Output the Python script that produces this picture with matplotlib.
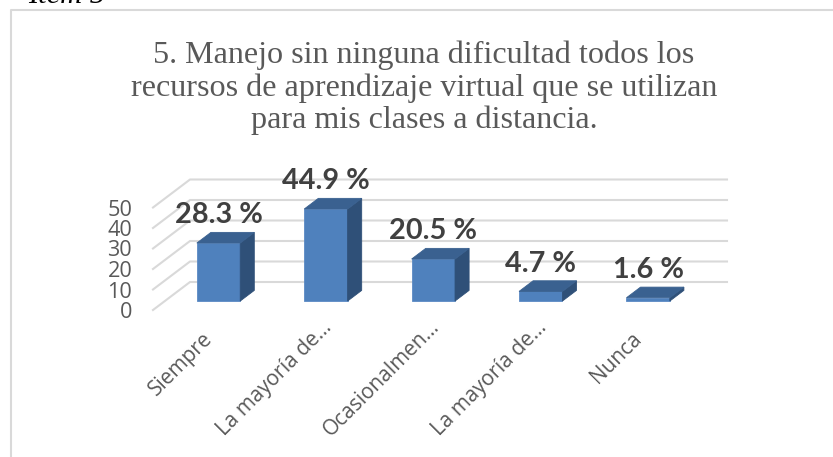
import matplotlib
matplotlib.use("Agg")
import matplotlib.pyplot as plt
from matplotlib.lines import Line2D
from matplotlib.patches import Polygon
from matplotlib.transforms import Affine2D

categories = ["Siempre", "La mayoría de...", "Ocasionalmen...", "La mayoría de...", "Nunca"]
values = [28.3, 44.9, 20.5, 4.7, 1.6]
value_labels = ["28.3 %", "44.9 %", "20.5 %", "4.7 %", "1.6 %"]
y_ticks = [0, 10, 20, 30, 40, 50]
title = ("5. Manejo sin ninguna dificultad todos los\n"
         "recursos de aprendizaje virtual que se utilizan\n"
         "para mis clases a distancia.")

W, H = 833, 457
fig = plt.figure(figsize=(W / 100, H / 100), dpi=100)

# chart frame (only top and left show) and the cut off caption above it
fig.add_artist(Line2D([10.5 / W, 10.5 / W, 1], [0, 1 - 10 / H, 1 - 10 / H], transform=fig.transFigure,
                      color="#d9d9d9", linewidth=1.5))
fig.text(28 / W, 1 - 3 / H, "Item 5", family="Liberation Serif", style="italic", fontsize=22, color="black")
fig.text(424 / W, 1 - 88 / H, title, family="Liberation Serif", fontsize=23.1, color="#595959",
         ha="center", va="center", linespacing=1.14)

# front plane of the 3d box, everything else is offset from it
ax = fig.add_axes([153 / W, 1 - 310 / H, 537 / W, 102.5 / H])
ax.set_xlim(-0.5, 4.5)
ax.set_ylim(0, 50)
for s in ax.spines.values():
    s.set_visible(False)

depth_x = 37 / 107.4
depth_y = 28 / 2.05
bar_w = 0.404


def proj(x, v, d):
    return (x + d * depth_x, v + d * depth_y)


# wall gridlines
for t in y_ticks:
    ax.plot([-0.5, -0.5 + depth_x, 4.5 + depth_x], [t, t + depth_y, t + depth_y],
            color="#d9d9d9", lw=1.5, clip_on=False, zorder=1)

d0, d1 = 0.32, 0.70
for i, v in enumerate(values):
    l = i - bar_w / 2
    r = i + bar_w / 2
    front = [proj(l, 0, d0), proj(r, 0, d0), proj(r, v, d0), proj(l, v, d0)]
    side = [proj(r, 0, d0), proj(r, 0, d1), proj(r, v, d1), proj(r, v, d0)]
    top = [proj(l, v, d0), proj(r, v, d0), proj(r, v, d1), proj(l, v, d1)]
    ax.add_patch(Polygon(front, facecolor="#4f81bd", edgecolor="#5b8ac4", lw=0.6, clip_on=False, zorder=3))
    ax.add_patch(Polygon(side, facecolor="#2f5078", edgecolor="#2f5078", lw=0.6, clip_on=False, zorder=3))
    ax.add_patch(Polygon(top, facecolor="#3a6190", edgecolor="#3a6190", lw=0.6, clip_on=False, zorder=3))
    ax.annotate(value_labels[i], (proj(i, v, d0)[0], proj(i, v, d1)[1]), xytext=(0, 3),
                textcoords="offset points", ha="center", va="bottom",
                family="Lato", weight="bold", fontsize=20.8, color="#404040", zorder=4, annotation_clip=False)

ax.set_yticks(y_ticks)
ax.set_yticklabels([str(t) for t in y_ticks], family="Open Sans", fontsize=15.6, color="#595959")
ax.set_xticks(range(len(categories)))
ax.set_xticklabels(categories, family="Open Sans", fontsize=15, color="#595959", rotation=45, ha="right",
                   rotation_mode="anchor")
ax.tick_params(axis="y", length=0, pad=15)
ax.tick_params(axis="x", length=0, pad=12)

# truncated labels sit further up and right than the whole words
for lab in ax.get_xticklabels():
    if lab.get_text().endswith("..."):
        lab.set_transform(lab.get_transform() + Affine2D().translate(7, 10))
    else:
        lab.set_transform(lab.get_transform() + Affine2D().translate(-5, -2))

fig.savefig("out.png", dpi=100)
